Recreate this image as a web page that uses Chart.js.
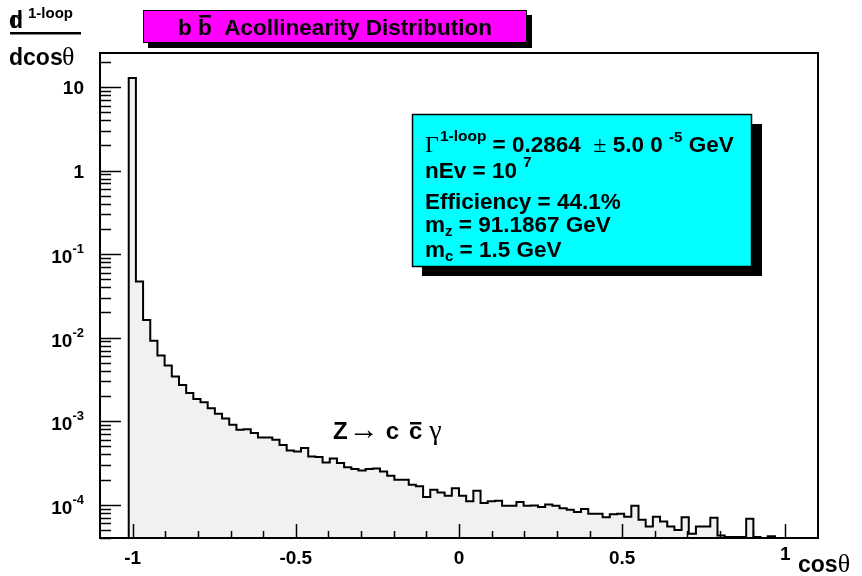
<!DOCTYPE html>
<html>
<head>
<meta charset="utf-8">
<script src="https://cdn.jsdelivr.net/npm/chart.js@4/dist/chart.umd.min.js"></script>
<style>
  html, body { margin: 0; padding: 0; background: #ffffff; }
  #wrap { width: 862px; height: 576px; position: relative; }
</style>
</head>
<body>
<div id="wrap"><canvas id="c" width="862" height="576"></canvas></div>
<script>
// Histogram binning: 100 equal bins on [-1.1, 1.1]
const X_LOW = -1.1;
const X_HIGH = 1.1;
const N_BINS = 100;
const FIRST_FILLED_BIN = 4;

// dGamma/dcos(theta) per bin, starting at bin FIRST_FILLED_BIN (0 = empty bin)
const binContents = [
  12.8, 0.047, 0.0163, 0.0092, 0.0061, 0.00464, 0.00343, 0.00272, 0.00217, 0.00184,
  0.00169, 0.00143, 0.00123, 0.00108, 0.000906, 0.00079, 0.00080, 0.00072, 0.00064, 0.00064,
  0.00060, 0.00052, 0.000446, 0.000434, 0.000477, 0.000379, 0.000372, 0.00032, 0.000358, 0.000315,
  0.000282, 0.000267, 0.000257, 0.000267, 0.000272, 0.00025, 0.000222, 0.000199, 0.000199, 0.000173,
  0.000166, 0.000124, 0.000151, 0.00014, 0.000128, 0.000158, 0.000128, 0.00011, 0.000147, 0.000105,
  0.00011, 0.000112, 0.000097, 0.000097, 0.000108, 0.000097, 0.000098, 0.000094, 0.000101, 0.000097,
  0.000091, 0.000087, 0.000082, 0.000089, 0.000078, 0.000078, 0.000071, 0.000077, 0.000078, 0.000072,
  0.000097, 0.000066, 0.000055, 0.000072, 0.000063, 0.000055, 0.00005, 0.000071, 0.000045, 0.000055,
  0.000055, 0.00007, 0.000043, 0.000041, 0.000041, 0.000041, 0.000068, 0.000041, 0, 0.000042,
  0, 0
];

// Axis ranges and tick labels
const Y_MIN = 4.0e-5;
const Y_MAX = 25.5;
const xMajorTicks = [-1, -0.5, 0, 0.5, 1];
const xTickLabels = ['-1', '-0.5', '0', '0.5', '1'];
const yDecades = [1, 0, -1, -2, -3, -4];
const yTickBase = ['10', '1', '10', '10', '10', '10'];
const yTickExp = ['', '', '-1', '-2', '-3', '-4'];

// Info box lines
const widthValue = '0.2864';
const widthError = '5.0 0';
const widthErrorExp = '-5';
const nEvents = '10';
const nEventsExp = '7';
const efficiency = '44.1%';
const massZ = '91.1867';
const massC = '1.5';

const F = {
  b: s => `bold ${s}px "Liberation Sans", Arial, Helvetica, sans-serif`,
  s: s => `${s}px "Liberation Serif", "DejaVu Serif", "Times New Roman", serif`
};

// Draws a sequence of text runs left to right from baseline (x, y)
function drawRuns(ctx, x, y, runs) {
  let cx = x;
  for (const r of runs) {
    ctx.font = r.font;
    cx += r.dx || 0;
    ctx.fillText(r.t, cx, y + (r.dy || 0));
    const m = ctx.measureText(r.t);
    const w = m.width;
    if (r.over) {
      const top = y + (r.dy || 0) - m.actualBoundingBoxAscent - r.over;
      ctx.fillRect(cx + 1, top, w - 2, 2.5);
    }
    cx += w + (r.after || 0);
  }
  return cx;
}
function runsWidth(ctx, runs) {
  let w = 0;
  for (const r of runs) { ctx.font = r.font; w += ctx.measureText(r.t).width + (r.dx || 0) + (r.after || 0); }
  return w;
}

const binW = (X_HIGH - X_LOW) / N_BINS;
const edge = k => X_LOW + k * binW;
const outline = [{ x: edge(FIRST_FILLED_BIN), y: Y_MIN }];
binContents.forEach((v, i) => outline.push({ x: edge(FIRST_FILLED_BIN + i), y: v > 0 ? v : Y_MIN }));
outline.push({ x: edge(FIRST_FILLED_BIN + binContents.length), y: Y_MIN });

const decorations = {
  id: 'decorations',
  afterDatasetsDraw(chart) {
    const ctx = chart.ctx;
    const a = chart.chartArea;
    const xs = chart.scales.x, ys = chart.scales.y;
    ctx.save();
    ctx.fillStyle = '#000';
    ctx.strokeStyle = '#000';

    // frame
    ctx.lineWidth = 2;
    ctx.strokeRect(a.left, a.top, a.right - a.left, a.bottom - a.top);

    // y ticks (log): decades long, 2..9 short
    ctx.lineWidth = 1.5;
    for (let d = -5; d <= 1; d++) {
      for (let m = 1; m <= 9; m++) {
        const v = m * Math.pow(10, d);
        if (v < Y_MIN || v > Y_MAX) continue;
        const py = Math.round(ys.getPixelForValue(v)) + 0.5;
        const len = m === 1 ? 21 : 11;
        ctx.beginPath(); ctx.moveTo(a.left, py); ctx.lineTo(a.left + len, py); ctx.stroke();
      }
    }
    // x ticks: every 0.1, major every 0.5
    for (let i = -10; i <= 10; i++) {
      const px = Math.round(xs.getPixelForValue(i / 10)) + 0.5;
      const len = i % 5 === 0 ? 14 : 7;
      ctx.beginPath(); ctx.moveTo(px, a.bottom); ctx.lineTo(px, a.bottom - len); ctx.stroke();
    }

    // y tick labels
    ctx.textBaseline = 'alphabetic';
    yDecades.forEach((d, i) => {
      const py = ys.getPixelForValue(Math.pow(10, d));
      const runs = [{ t: yTickBase[i], font: F.b(19) }];
      if (yTickExp[i]) runs.push({ t: yTickExp[i], font: F.b(13), dy: -10 });
      const w = runsWidth(ctx, runs);
      drawRuns(ctx, 84 - w, py + 7 + (yTickExp[i] ? 2 : 0), runs);
    });

    // x tick labels
    ctx.font = F.b(19);
    ctx.textAlign = 'center';
    xMajorTicks.forEach((v, i) => {
      const px = xs.getPixelForValue(v);
      ctx.fillText(xTickLabels[i], px, i === xMajorTicks.length - 1 ? 560 : 564);
    });
    ctx.textAlign = 'left';

    // x axis title
    drawRuns(ctx, 798, 572, [{ t: 'cos', font: F.b(23) }, { t: 'θ', font: F.s(26) }]);

    // y axis title: dGamma^(1-loop) / dcos(theta)
    drawRuns(ctx, 9, 28, [{ t: 'd', font: F.b(23) }]);
    drawRuns(ctx, 11, 28, [{ t: 'Γ', font: F.s(19) }]);
    drawRuns(ctx, 28, 18, [{ t: '1-loop', font: F.b(15) }]);
    ctx.fillRect(10, 32, 71, 2.5);
    drawRuns(ctx, 9, 65, [{ t: 'dcos', font: F.b(23) }]);
    drawRuns(ctx, 62, 65, [{ t: 'θ', font: F.s(26) }]);

    // title box
    ctx.fillStyle = '#000';
    ctx.fillRect(148, 15, 384, 33);
    ctx.fillStyle = '#ff00ff';
    ctx.fillRect(143, 10, 384, 33);
    ctx.lineWidth = 1;
    ctx.strokeRect(143.5, 10.5, 383, 32);
    ctx.fillStyle = '#000';
    const titleRuns = [
      { t: 'b ', font: F.b(22.5) },
      { t: 'b', font: F.b(22.5), over: 4 },
      { t: '  Acollinearity Distribution', font: F.b(22.5) }
    ];
    const tw = runsWidth(ctx, titleRuns);
    drawRuns(ctx, 335 - tw / 2, 35, titleRuns);

    // info box
    ctx.fillStyle = '#000';
    ctx.fillRect(422, 124, 340, 152);
    ctx.fillStyle = '#00ffff';
    ctx.fillRect(412, 114, 340, 153);
    ctx.lineWidth = 1.5;
    ctx.strokeRect(412.5, 114.5, 339, 152);
    ctx.fillStyle = '#000';
    const X0 = 425;
    drawRuns(ctx, X0, 152, [
      { t: 'Γ', font: F.s(24), after: 1 },
      { t: '1-loop', font: F.b(15.5), dy: -11 },
      { t: ' = ' + widthValue + '  ', font: F.b(22.5) },
      { t: '±', font: F.s(24) },
      { t: ' ' + widthError + ' ', font: F.b(22.5) },
      { t: widthErrorExp, font: F.b(15), dy: -10 },
      { t: ' GeV', font: F.b(22.5) }
    ]);
    drawRuns(ctx, X0, 178, [
      { t: 'nEv = ' + nEvents + ' ', font: F.b(22.5) },
      { t: nEventsExp, font: F.b(15), dy: -11 }
    ]);
    drawRuns(ctx, X0, 209, [{ t: 'Efficiency = ' + efficiency, font: F.b(22.5) }]);
    drawRuns(ctx, X0, 232, [
      { t: 'm', font: F.b(22.5) },
      { t: 'z', font: F.b(15), dy: 4 },
      { t: ' = ' + massZ + ' GeV', font: F.b(22.5) }
    ]);
    drawRuns(ctx, X0, 257, [
      { t: 'm', font: F.b(22.5) },
      { t: 'c', font: F.b(15), dy: 4 },
      { t: ' = ' + massC + ' GeV', font: F.b(22.5) }
    ]);

    // process label
    drawRuns(ctx, 333, 439, [
      { t: 'Z', font: F.b(24), after: 1 },
      { t: '→', font: F.s(30), after: 7 },
      { t: 'c', font: F.b(24), after: 10 },
      { t: 'c', font: F.b(24), over: 4, after: 7 },
      { t: 'γ', font: F.s(28) }
    ]);
    ctx.restore();
  }
};

new Chart(document.getElementById('c'), {
  type: 'line',
  data: {
    datasets: [{
      data: outline,
      stepped: 'before',
      borderColor: '#000000',
      borderWidth: 2,
      backgroundColor: '#f1f1f1',
      fill: 'start',
      pointRadius: 0,
      tension: 0
    }]
  },
  options: {
    responsive: false,
    animation: false,
    events: [],
    layout: { padding: { left: 100, right: 44, top: 53, bottom: 38 } },
    plugins: { legend: { display: false }, tooltip: { enabled: false }, title: { display: false } },
    scales: {
      x: { type: 'linear', min: X_LOW, max: X_HIGH, display: false },
      y: { type: 'logarithmic', min: Y_MIN, max: Y_MAX, display: false }
    }
  },
  plugins: [decorations]
});
</script>
</body>
</html>
